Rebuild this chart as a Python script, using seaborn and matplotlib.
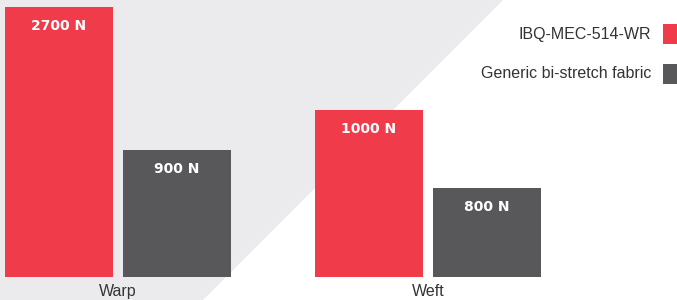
import seaborn as sns
import matplotlib.pyplot as plt
import pandas as pd
from matplotlib.patches import Polygon, Rectangle

# data
directions = ["Warp", "Warp", "Weft", "Weft"]
fabrics = ["IBQ-MEC-514-WR", "Generic bi-stretch fabric",
           "IBQ-MEC-514-WR", "Generic bi-stretch fabric"]
# bar heights as drawn in the source graphic (not strictly proportional)
drawn_height = [2700, 1270, 1670, 890]
force_labels = {"IBQ-MEC-514-WR": ["2700 N", "1000 N"],
                "Generic bi-stretch fabric": ["900 N", "800 N"]}
fabric_order = ["IBQ-MEC-514-WR", "Generic bi-stretch fabric"]
colors = ["#EF3B4A", "#58585A"]

df = pd.DataFrame({"direction": directions, "fabric": fabrics, "height": drawn_height})

sns.set_theme(style="white")
plt.rcParams['font.family'] = ['Liberation Sans', 'DejaVu Sans']

W, H = 677, 300
fig = plt.figure(figsize=(W / 100, H / 100), dpi=100)
fig.patch.set_facecolor("white")

# light grey diagonal backdrop
fig.patches.append(Polygon([(0, 1), (503 / W, 1), (203 / W, 0), (0, 0)],
                           closed=True, transform=fig.transFigure,
                           facecolor="#EBEBED", edgecolor="none", zorder=-5))

ax = fig.add_axes([0, 23 / H, 1, 277 / H])
ax.set_facecolor("none")
ax.set_zorder(1)
sns.barplot(data=df, x="direction", y="height", hue="fabric", hue_order=fabric_order,
            palette=colors, saturation=1, width=0.761, gap=0.085, linewidth=0,
            legend=False, ax=ax)

for cont, fab in zip(ax.containers, fabric_order):
    ax.bar_label(cont, labels=force_labels[fab], padding=-19, color="white",
                 fontsize=10, fontweight="bold", family="DejaVu Sans")

ax.set_xlim(-118 / 310, 559 / 310)
ax.set_ylim(0, 2770)
ax.set_xlabel("")
ax.set_ylabel("")
ax.set_yticks([])
ax.tick_params(axis="x", length=0, pad=5, labelsize=11.5, labelcolor="#333333")
sns.despine(ax=ax, left=True, bottom=True)

# legend on the right, label first then swatch
for i, (fab, col) in enumerate(zip(fabric_order, colors)):
    yc = 34 + 40 * i
    fig.text(651 / W, 1 - yc / H, fab, ha="right", va="center",
             fontsize=11.5, color="#333333")
    fig.patches.append(Rectangle((663 / W, 1 - (yc + 10) / H), 20 / W, 20 / H,
                                 transform=fig.transFigure, facecolor=col,
                                 edgecolor="none", zorder=2))

plt.savefig("out.png", dpi=100)
